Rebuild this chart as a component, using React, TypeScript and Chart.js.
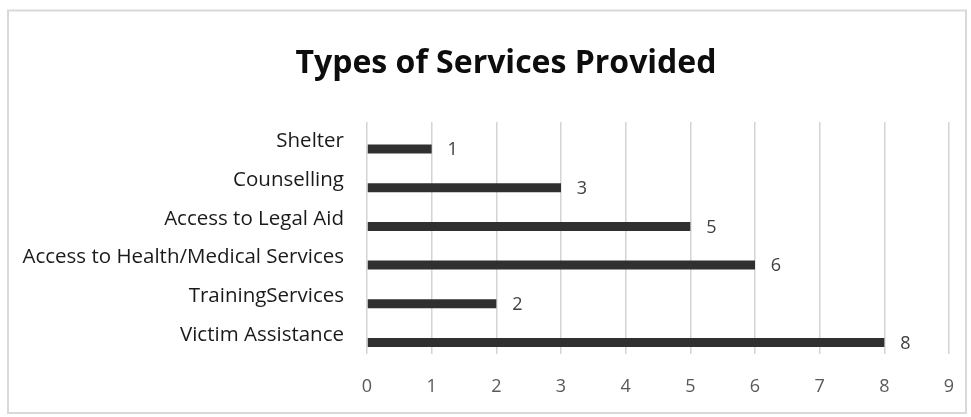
import React, { useEffect, useRef } from 'react';
import { Chart, registerables } from 'chart.js';

Chart.register(...registerables);

const chartTitle = 'Types of Services Provided';
const categories = [
  'Shelter',
  'Counselling',
  'Access to Legal Aid',
  'Access to Health/Medical Services',
  'TrainingServices',
  'Victim Assistance',
];
const serviceCounts = [1, 3, 5, 6, 2, 8];
const emptySeries = [null, null, null, null, null, null];
const xMin = 0;
const xMax = 9;
const xStep = 1;

const FONT = "'Open Sans', 'Noto Sans', sans-serif";

const framePlugin = {
  id: 'frame',
  beforeDraw(chart: any) {
    const { ctx, width, height } = chart;
    ctx.save();
    ctx.fillStyle = '#ffffff';
    ctx.fillRect(0, 0, width, height);
    ctx.strokeStyle = '#d9d9d9';
    ctx.lineWidth = 2;
    ctx.strokeRect(8, 10.5, 958, 402.5);
    ctx.restore();
  },
  afterDraw(chart: any) {
    const { ctx } = chart;
    ctx.save();
    ctx.fillStyle = '#0d0d0d';
    ctx.font = `bold 32px ${FONT}`;
    ctx.textAlign = 'center';
    ctx.textBaseline = 'middle';
    ctx.fillText(chartTitle, 506, 64);
    ctx.restore();
  },
};

const valueLabelPlugin = {
  id: 'valueLabels',
  afterDatasetsDraw(chart: any) {
    const { ctx } = chart;
    const meta = chart.getDatasetMeta(1);
    ctx.save();
    ctx.fillStyle = '#404040';
    ctx.font = `18px ${FONT}`;
    ctx.textAlign = 'center';
    ctx.textBaseline = 'middle';
    meta.data.forEach((el: any, i: number) => {
      ctx.fillText(String(serviceCounts[i]), el.x + 21, el.y + 1);
    });
    ctx.restore();
  },
};

export default function App() {
  const ref = useRef<HTMLCanvasElement | null>(null);

  useEffect(() => {
    if (!ref.current) return;
    const chart = new Chart(ref.current, {
      type: 'bar',
      data: {
        labels: categories,
        datasets: [
          {
            label: '',
            data: emptySeries as any,
            backgroundColor: '#303030',
          },
          {
            label: 'Services',
            data: serviceCounts,
            backgroundColor: '#303030',
            borderWidth: 0,
          },
        ],
      },
      options: {
        indexAxis: 'y',
        animation: false,
        responsive: true,
        maintainAspectRatio: false,
        categoryPercentage: 0.8,
        barPercentage: 0.58,
        layout: { padding: { top: 122, right: 22, bottom: 0, left: 0 } },
        plugins: {
          legend: { display: false },
          tooltip: { enabled: false },
          title: { display: false },
        },
        scales: {
          x: {
            type: 'linear',
            min: xMin,
            max: xMax,
            grid: { color: '#d4d4d4', lineWidth: 1.5, drawTicks: false },
            border: { display: false },
            ticks: {
              stepSize: xStep,
              color: '#595959',
              font: { family: FONT, size: 18 },
              padding: 22,
            },
            afterFit(scale: any) {
              scale.height = 63;
              scale.paddingLeft = 0;
              scale.paddingRight = 0;
            },
          },
          y: {
            type: 'category',
            grid: { display: false, drawTicks: false },
            border: { display: false },
            ticks: {
              color: '#1a1a1a',
              font: { family: FONT, size: 20.5 },
              padding: 23,
            },
            afterFit(scale: any) {
              scale.width = 367;
              scale.paddingTop = 0;
              scale.paddingBottom = 0;
            },
          },
        },
      } as any,
      plugins: [framePlugin, valueLabelPlugin],
    });
    return () => chart.destroy();
  }, []);

  return (
    <div style={{ position: 'fixed', left: 0, top: 0, width: 971, height: 417, background: '#fff' }}>
      <canvas ref={ref} />
    </div>
  );
}
